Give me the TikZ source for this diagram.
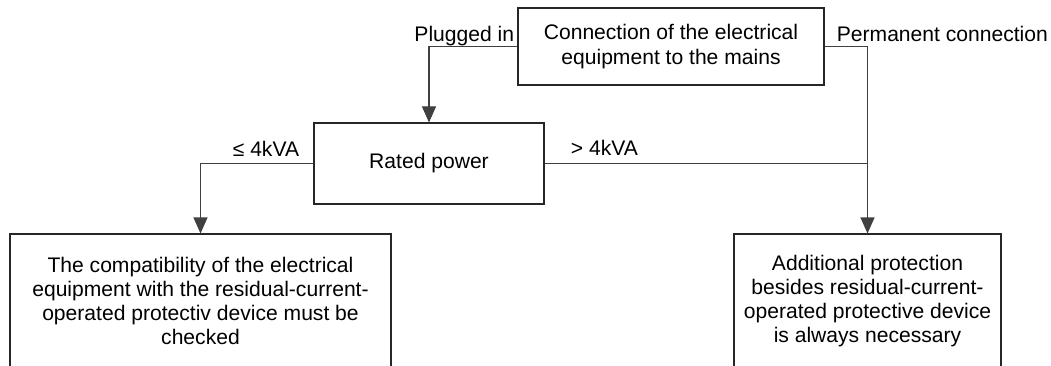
\documentclass[tikz,border=0pt]{standalone}
\usepackage{fontspec}
\setmainfont{Liberation Sans}
\usetikzlibrary{arrows.meta}
\tikzset{
  boite/.style={draw=black!85, line width=0.6pt, inner sep=0pt, align=center,
    font=\fontsize{12}{13.8}\selectfont},
  lien/.style={draw=black!75, line width=0.6pt},
  fleche/.style={lien, -{Triangle[length=0.32cm,width=0.28cm]}},
  etiq/.style={inner sep=0pt, font=\fontsize{12}{13.8}\selectfont}
}
\begin{document}
\begin{tikzpicture}
		\useasboundingbox (0,0) rectangle (21.02,7.3);
		% boites
		\node (raccord) [boite, minimum width=6.12cm, minimum height=1.54cm] at (13.42,6.37)
		  {Connection of the electrical\\equipment to the mains};
		\node (puissance) [boite, minimum width=4.6cm, minimum height=1.62cm] at (8.58,4.03)
		  {Rated power};
		\node (verif) [boite, minimum width=7.62cm, minimum height=2.68cm] at (4.01,1.28)
		  {The compatibility of the electrical\\equipment with the residual-current-\\operated protectiv device must be\\checked};
		\node (protec) [boite, minimum width=5.34cm, minimum height=2.68cm] at (17.35,1.28)
		  {Additional protection\\besides residual-current-\\operated protective device\\is always necessary};
		% liaisons
		\coordinate (jonction) at (puissance.east -| protec.north);
		\draw[fleche] (raccord.west) -| (puissance.north);
		\draw[fleche] (raccord.east) -| (protec.north);
		\draw[lien] (puissance.east) -- (jonction);
		\draw[fleche] (puissance.west) -| (verif.north);
		% etiquettes
		\node (branche) [etiq, anchor=base east] at ([xshift=-0.06cm,yshift=0.1cm]raccord.west) {Plugged in};
		\node (fixe) [etiq, anchor=base west] at ([xshift=0.24cm,yshift=0.1cm]raccord.east) {Permanent connection};
		\node (faible) [etiq, anchor=base east] at ([xshift=-0.28cm,yshift=0.14cm]puissance.west) {≤ 4kVA};
		\node (forte) [etiq, anchor=base west] at ([xshift=0.52cm,yshift=0.16cm]puissance.east) {> 4kVA};
\end{tikzpicture}
\end{document}
